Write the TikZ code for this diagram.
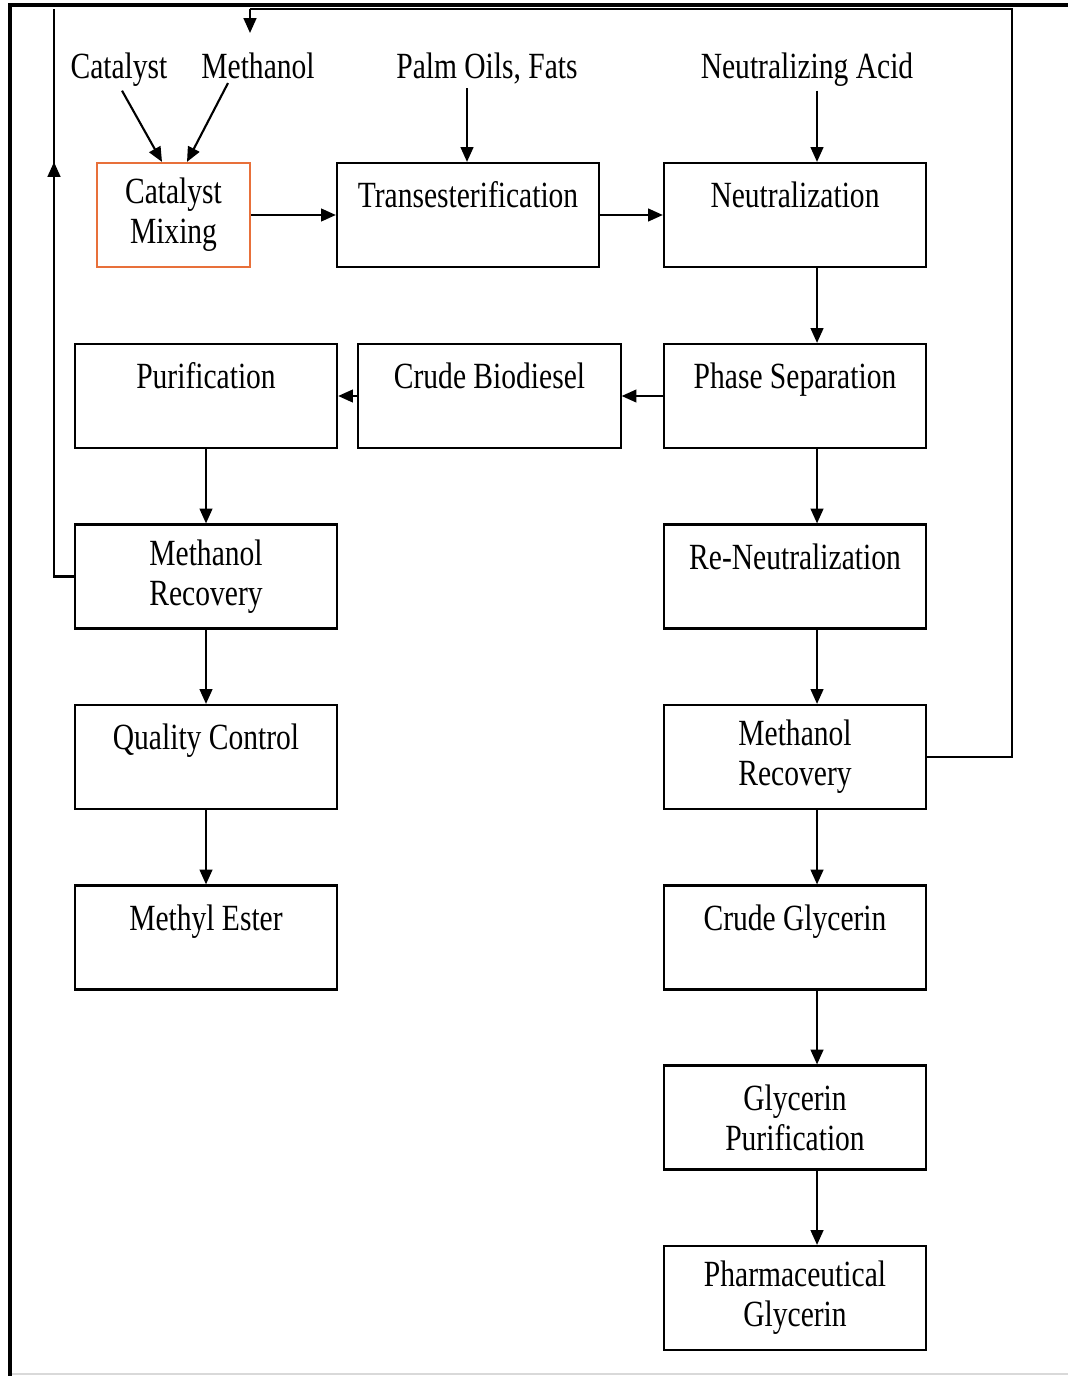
\documentclass[tikz,border=0pt]{standalone}
\usepackage{fontspec}
\setmainfont{Liberation Serif}[FakeStretch=0.8]
\usetikzlibrary{arrows.meta, calc}
\definecolor{mixorange}{HTML}{E8703A}

\begin{document}
\begin{tikzpicture}[x=0.01cm, y=-0.01cm,
    every node/.style={font=\fontsize{10.5}{11.4}\selectfont},
    stage/.style={draw, line width=0.6pt, minimum width=2.62cm, minimum height=1.04cm, inner sep=0pt, align=center},
    feed/.style={anchor=base, inner sep=0pt},
    flow/.style={line width=0.6pt, -{Triangle[length=4.2pt, width=3.6pt]}},
    loopline/.style={line width=0.6pt}]
  \useasboundingbox (0,0) rectangle (1068,1376);
  % page frame
  \draw[line width=1.1pt] (1068,5) -- (10,5) -- (10,1376);
  \draw[black!15, line width=0.5pt] (12,1374) -- (1068,1374);
  % feeds
  \node[feed] (cat) at (119,79) {Catalyst};
  \node[feed] (meth) at (258,79) {Methanol};
  \node[feed] (palm) at (487,79) {Palm Oils, Fats};
  \node[feed] (acid) at (807,79) {Neutralizing Acid};
  % process stages
  \node[stage, draw=mixorange, minimum width=1.53cm] (mix) at (173.5,215) {Catalyst\\Mixing};
  \node[stage] (trans) at (468,215) {Transesterification\\~};
  \node[stage] (neut) at (795,215) {Neutralization\\~};
  \node[stage] (puri) at (206,396) {Purification\\~};
  \node[stage] (crude) at (489.5,396) {Crude Biodiesel\\~};
  \node[stage] (phase) at (795,396) {Phase Separation\\~};
  \node[stage] (recL) at (206,576.5) {Methanol\\Recovery};
  \node[stage] (reneut) at (795,576.5) {Re-Neutralization\\~};
  \node[stage] (qc) at (206,757) {Quality Control\\~};
  \node[stage] (recR) at (795,757) {Methanol\\Recovery};
  \node[stage] (ester) at (206,937.5) {Methyl Ester\\~};
  \node[stage] (cglyc) at (795,937.5) {Crude Glycerin\\~};
  \node[stage] (gpur) at (795,1117.5) {Glycerin\\Purification};
  \node[stage] (pharma) at (795,1298) {Pharmaceutical\\Glycerin};
  % feed arrows
  \draw[flow] ($(cat.south)+(3,3)$) -- ($(mix.north)+(-11.5,0)$);
  \draw[flow] ($(meth.south)+(-30,3)$) -- ($(mix.north)+(13.5,0)$);
  \draw[flow] ($(palm.south)+(-20,3)$) -- ($(trans.north)+(-1,0)$);
  \draw[flow] ($(acid.south)+(10,3)$) -- ($(neut.north)+(22,0)$);
  % main flow
  \draw[flow] (mix.east) -- (trans.west);
  \draw[flow] (trans.east) -- (neut.west);
  \draw[flow] ([xshift=0.22cm]neut.south) -- ([xshift=0.22cm]phase.north);
  \draw[flow] (phase.west) -- (crude.east);
  \draw[flow] (crude.west) -- (puri.east);
  \draw[flow] ([xshift=0.22cm]phase.south) -- ([xshift=0.22cm]reneut.north);
  \draw[flow] ([xshift=0.22cm]reneut.south) -- ([xshift=0.22cm]recR.north);
  \draw[flow] ([xshift=0.22cm]recR.south) -- ([xshift=0.22cm]cglyc.north);
  \draw[flow] ([xshift=0.22cm]cglyc.south) -- ([xshift=0.22cm]gpur.north);
  \draw[flow] ([xshift=0.22cm]gpur.south) -- ([xshift=0.22cm]pharma.north);
  \draw[flow] (puri.south) -- (recL.north);
  \draw[flow] (recL.south) -- (qc.north);
  \draw[flow] (qc.south) -- (ester.north);
  % methanol recycle
  \coordinate (topL) at (54,9);
  \coordinate (topR) at (1012,9);
  \coordinate (drop) at (250,33);
  \draw[loopline] (recL.west) -| (topL);
  \draw[flow] (54,200) -- (54,162);
  \draw[loopline] (recR.east) -| (topR) -- (drop |- topR);
  \draw[flow] (drop |- topR) -- (drop);
\end{tikzpicture}
\end{document}
